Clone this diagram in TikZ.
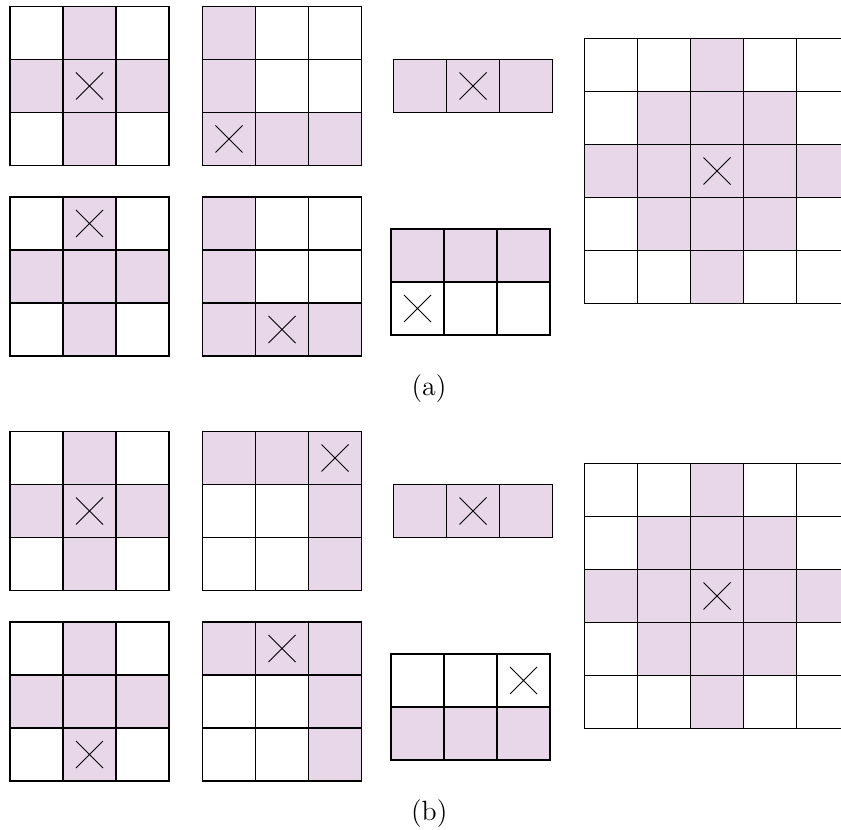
\documentclass[tikz,border=0pt]{standalone}
\usepackage{tikz}
\usetikzlibrary{positioning}
\definecolor{stencilPink}{HTML}{E7D7E9}

% one stencil: origin x, origin y, cols, rows, shaded cells c/r, cross col, cross row
\newcommand{\drawstencil}[7]{%
  \begin{scope}[shift={(#1,#2)}]
    \foreach \c/\r in {#5}
      \fill[cellshade] (\c*53,\r*53) rectangle ++(53,53);
    \foreach \i in {0,...,#3}
      \draw[gridline] (\i*53,0) -- (\i*53,#4*53);
    \foreach \j in {0,...,#4}
      \draw[gridline] (0,\j*53) -- (#3*53,\j*53);
    \draw[crossline] (#6*53+13,#7*53+13) -- ++(27,27)
                     (#6*53+40,#7*53+13) -- ++(-27,27);
  \end{scope}}

\begin{document}
\begin{tikzpicture}[x=0.4167pt, y=-0.4167pt,
          cellshade/.style={fill=stencilPink},
          gridline/.style={draw=black, line width=0.45pt, line cap=rect},
          crossline/.style={draw=black, line width=0.38pt},
          caption/.style={anchor=base, inner sep=0pt, font=\fontsize{11.6}{14}\selectfont}]
        \useasboundingbox (0,0) rectangle (841,830);
        \clip (0,0) rectangle (841,830);
        % (a)
        \drawstencil{10}{6.5}{3}{3}{1/0,0/1,1/1,2/1,1/2}{1}{1}
        \drawstencil{202.5}{6.5}{3}{3}{0/0,0/1,0/2,1/2,2/2}{0}{2}
        \drawstencil{393.5}{59.5}{3}{1}{0/0,1/0,2/0}{1}{0}
        \drawstencil{584.5}{38.5}{5}{5}{2/0,1/1,2/1,3/1,0/2,1/2,2/2,3/2,4/2,1/3,2/3,3/3,2/4}{2}{2}
        \drawstencil{10}{197}{3}{3}{1/0,0/1,1/1,2/1,1/2}{1}{0}
        \drawstencil{202.5}{197}{3}{3}{0/0,0/1,0/2,1/2,2/2}{1}{2}
        \drawstencil{391}{229}{3}{2}{0/0,1/0,2/0}{0}{1}
        \node[caption] (capA) at (429,395.5) {(a)};
        % (b)
        \drawstencil{10}{431.5}{3}{3}{1/0,0/1,1/1,2/1,1/2}{1}{1}
        \drawstencil{202.5}{431.5}{3}{3}{0/0,1/0,2/0,2/1,2/2}{2}{0}
        \drawstencil{393.5}{484.5}{3}{1}{0/0,1/0,2/0}{1}{0}
        \drawstencil{584.5}{463.5}{5}{5}{2/0,1/1,2/1,3/1,0/2,1/2,2/2,3/2,4/2,1/3,2/3,3/3,2/4}{2}{2}
        \drawstencil{10}{622}{3}{3}{1/0,0/1,1/1,2/1,1/2}{1}{2}
        \drawstencil{202.5}{622}{3}{3}{0/0,1/0,2/0,2/1,2/2}{1}{0}
        \drawstencil{391}{654}{3}{2}{0/1,1/1,2/1}{2}{0}
        \node[caption] (capB) at (429.3,820.5) {(b)};
      \end{tikzpicture}
\end{document}
